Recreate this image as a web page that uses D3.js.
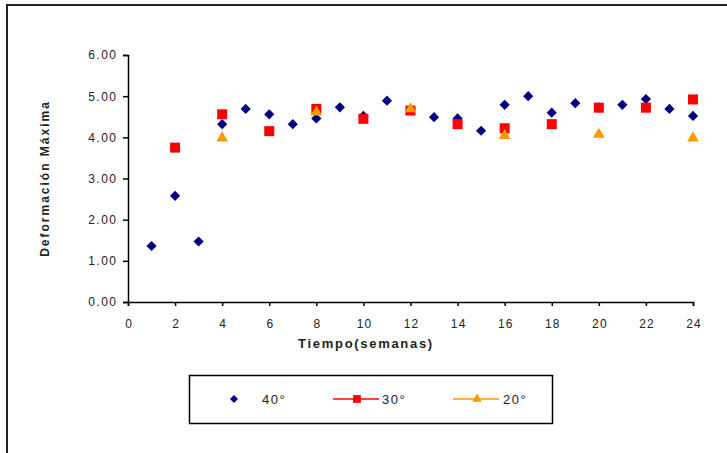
<!DOCTYPE html>
<html>
<head>
<meta charset="utf-8">
<script src="https://cdn.jsdelivr.net/npm/d3@7"></script>
<style>
  body { margin: 0; background: #fff; }
  text { font-family: "Liberation Sans", Arial, sans-serif; }
</style>
</head>
<body>
<div id="chart"></div>
<script>
// weeks and readings, one list per series
const weeks40 = d3.range(1, 25);
const values40 = [1.36, 2.58, 1.47, 4.32, 4.69, 4.56, 4.32, 4.46, 4.73, 4.52, 4.89, 4.68,
  4.49, 4.46, 4.16, 4.79, 5.00, 4.60, 4.83, 4.73, 4.79, 4.93, 4.69, 4.52];
const weeks30 = [2, 4, 6, 8, 10, 12, 14, 16, 18, 20, 22, 24];
const values30 = [3.75, 4.56, 4.15, 4.69, 4.45, 4.65, 4.32, 4.22, 4.32, 4.72, 4.72, 4.92];
const weeks20 = [4, 8, 12, 16, 20, 24];
const values20 = [3.98, 4.61, 4.69, 4.04, 4.07, 3.98];

const xTicks = d3.range(0, 25, 2);
const yTicks = [0, 1, 2, 3, 4, 5, 6];
const seriesNames = ["40°", "30°", "20°"];

const width = 727;
const height = 453;
const margin = { top: 55, right: 34, bottom: 151, left: 128 };

const svg = d3
  .select("#chart")
  .append("svg")
  .attr("width", width)
  .attr("height", height);

// outer frame (runs off the right and bottom of the picture)
svg
  .append("rect")
  .attr("x", 7)
  .attr("y", 5)
  .attr("width", 760)
  .attr("height", 480)
  .attr("fill", "none")
  .attr("stroke", "#222")
  .attr("stroke-width", 2);

const x = d3
  .scaleLinear()
  .domain([0, 24])
  .range([margin.left, width - margin.right]);

const y = d3
  .scaleLinear()
  .domain([0, 6])
  .range([height - margin.bottom, margin.top]);

const g = svg.append("g");

g.append("g")
  .attr("transform", `translate(0,${y(0)})`)
  .call(d3.axisBottom(x).tickValues(xTicks).tickSize(4).tickPadding(13))
  .call((a) => a.selectAll("path,line").attr("stroke", "#000").attr("stroke-width", 1.5))
  .call((a) => a.selectAll("text").attr("font-size", 12).attr("fill", "#222")
    .attr("letter-spacing", 1.2).attr("dx", 0.6));

g.append("g")
  .attr("transform", `translate(${x(0)},0)`)
  .call(d3.axisLeft(y).tickValues(yTicks).tickFormat(d3.format(".2f")).tickSize(5).tickPadding(7))
  .call((a) => a.selectAll("path,line").attr("stroke", "#000").attr("stroke-width", 1.5))
  .call((a) => a.selectAll("text").attr("font-size", 12).attr("fill", "#222")
    .attr("letter-spacing", 1.5).attr("dx", 1.5));

// axis titles
svg
  .append("text")
  .attr("x", 366)
  .attr("y", 348)
  .attr("text-anchor", "middle")
  .attr("font-size", 13)
  .attr("font-weight", "bold")
  .attr("letter-spacing", 1.7)
  .attr("fill", "#222")
  .text("Tiempo(semanas)");

svg
  .append("text")
  .attr("transform", `translate(49,${(y(0) + y(6)) / 2}) rotate(-90)`)
  .attr("text-anchor", "middle")
  .attr("font-size", 12)
  .attr("font-weight", "bold")
  .attr("letter-spacing", 2)
  .attr("fill", "#222")
  .text("Deformación Máxima");

const diamond = d3.symbol().type(d3.symbolSquare).size(52);
const square = d3.symbol().type(d3.symbolSquare).size(100);
const triangle = d3.symbol().type(d3.symbolTriangle).size(60);

const colors = ["#000080", "#ff0000", "#ff9900"];

// 40° diamonds
g.selectAll(".d40")
  .data(weeks40.map((w, i) => ({ w, v: values40[i] })))
  .enter()
  .append("path")
  .attr("class", "d40")
  .attr("d", diamond)
  .attr("transform", (d) => `translate(${x(d.w)},${y(d.v)}) rotate(45)`)
  .attr("fill", colors[0]);

// 30° squares
g.selectAll(".d30")
  .data(weeks30.map((w, i) => ({ w, v: values30[i] })))
  .enter()
  .append("path")
  .attr("class", "d30")
  .attr("d", square)
  .attr("transform", (d) => `translate(${x(d.w)},${y(d.v)})`)
  .attr("fill", colors[1]);

// 20° triangles
g.selectAll(".d20")
  .data(weeks20.map((w, i) => ({ w, v: values20[i] })))
  .enter()
  .append("path")
  .attr("class", "d20")
  .attr("d", triangle)
  .attr("transform", (d) => `translate(${x(d.w)},${y(d.v)})`)
  .attr("fill", colors[2]);

// legend
const legend = svg.append("g");
legend
  .append("rect")
  .attr("x", 189.5)
  .attr("y", 375.5)
  .attr("width", 363)
  .attr("height", 48)
  .attr("fill", "#fff")
  .attr("stroke", "#000")
  .attr("stroke-width", 1.5);

const legendItems = [
  { name: seriesNames[0], cx: 234, line: false, rot: 45, tx: 262 },
  { name: seriesNames[1], cx: 357, line: true, rot: 0, tx: 382, size: 60 },
  { name: seriesNames[2], cx: 477, line: true, rot: 0, tx: 503, size: 40 },
];

legendItems.forEach((d, i) => {
  const ly = 399;
  if (d.line) {
    legend
      .append("line")
      .attr("x1", d.cx - 24)
      .attr("x2", d.cx + 22)
      .attr("y1", ly)
      .attr("y2", ly)
      .attr("stroke", colors[i])
      .attr("stroke-width", 1.5);
  }
  const sym = i === 0 ? d3.symbol().type(d3.symbolSquare).size(32)
    : d3.symbol().type(i === 1 ? d3.symbolSquare : d3.symbolTriangle).size(d.size);
  legend
    .append("path")
    .attr("d", sym)
    .attr("transform", `translate(${d.cx},${ly}) rotate(${d.rot})`)
    .attr("fill", colors[i]);
  legend
    .append("text")
    .attr("x", d.tx)
    .attr("y", ly + 5)
    .attr("font-size", 13)
    .attr("letter-spacing", 1.5)
    .attr("fill", "#222")
    .text(d.name);
});
</script>
</body>
</html>
